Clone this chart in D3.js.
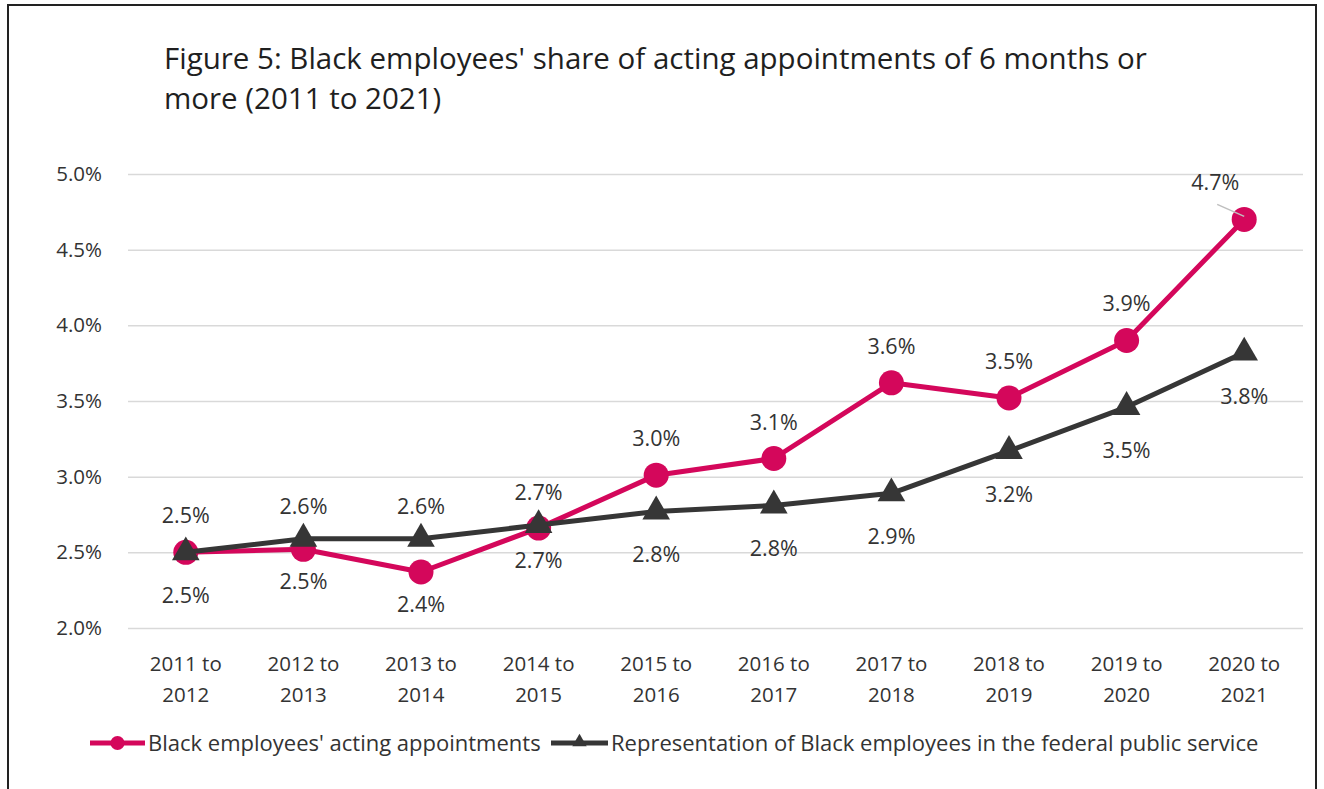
<!DOCTYPE html>
<html>
<head>
<meta charset="utf-8">
<script src="https://cdn.jsdelivr.net/npm/d3@7"></script>
<style>
  body { margin: 0; background: #fff; }
  text { font-family: "Open Sans", "Noto Sans", sans-serif; fill: #333; }
</style>
</head>
<body>
<svg width="1324" height="789"></svg>
<script>
// data
var periods = ["2011 to 2012", "2012 to 2013", "2013 to 2014", "2014 to 2015", "2015 to 2016",
               "2016 to 2017", "2017 to 2018", "2018 to 2019", "2019 to 2020", "2020 to 2021"];
var actingShare = [0.0250, 0.0252, 0.0237, 0.0266, 0.0301, 0.0312, 0.0362, 0.0352, 0.0390, 0.0470];
var representation = [0.0250, 0.0259, 0.0259, 0.0268, 0.0277, 0.0281, 0.0289, 0.0317, 0.0346, 0.0382];
var yTicks = [0.020, 0.025, 0.030, 0.035, 0.040, 0.045, 0.050];
var seriesNames = ["Black employees' acting appointments", "Representation of Black employees in the federal public service"];
var titleLines = ["Figure 5: Black employees' share of acting appointments of 6 months or", "more (2011 to 2021)"];

// where each data label goes (1 = above, -1 = below)
var actingLabelSide = [1, -1, -1, -1, 1, 1, 1, 1, 1, 1];
var reprLabelSide = [-1, 1, 1, 1, -1, -1, -1, -1, -1, -1];

var pink = "#d4075b", dark = "#363636";
var svg = d3.select("svg");
var fmt = d3.format(".1%");

// frame
svg.append("rect")
  .attr("x", 8).attr("y", 5).attr("width", 1308).attr("height", 820)
  .attr("fill", "none").attr("stroke", "#222").attr("stroke-width", 2);

// title
svg.append("g").selectAll("text")
  .data(titleLines).enter().append("text")
  .attr("x", 164).attr("y", function(d, i) { return 69 + i * 40; })
  .style("font-size", "29.5px").style("fill", "#1f1f1f")
  .text(function(d) { return d; });

var x = d3.scaleBand().domain(periods).range([127, 1303]);
var y = d3.scaleLinear().domain([0.02, 0.05]).range([628, 174]);
var cx = function(i) { return x(periods[i]) + x.bandwidth() / 2; };

// gridlines + y labels
var yAxis = svg.append("g")
  .attr("transform", "translate(" + 1303 + ",0)")
  .call(d3.axisLeft(y).tickValues(yTicks).tickSize(1303 - 128).tickFormat(d3.format(".1%")).tickPadding(26));
yAxis.select(".domain").remove();
yAxis.selectAll(".tick line").attr("stroke", "#d9d9d9").attr("stroke-width", 1.5);
yAxis.selectAll(".tick text").style("font-size", "20.5px").style("fill", "#333")
  .attr("font-family", null);

// x labels
var xg = svg.append("g");
periods.forEach(function(p, i) {
  var parts = p.split(" to ");
  var t = xg.append("text").attr("text-anchor", "middle").style("font-size", "20.5px");
  t.append("tspan").attr("x", cx(i)).attr("y", 671).text(parts[0] + " to");
  t.append("tspan").attr("x", cx(i)).attr("y", 702).text(parts[1]);
});

var line = d3.line().x(function(d, i) { return cx(i); }).y(function(d) { return y(d); });

// acting appointments series
svg.append("path").datum(actingShare)
  .attr("d", line).attr("fill", "none").attr("stroke", pink).attr("stroke-width", 5)
  .attr("stroke-linejoin", "round");
svg.append("g").selectAll("circle").data(actingShare).enter().append("circle")
  .attr("cx", function(d, i) { return cx(i); })
  .attr("cy", function(d) { return y(d); })
  .attr("r", 12.5).attr("fill", pink);

// representation series
svg.append("path").datum(representation)
  .attr("d", line).attr("fill", "none").attr("stroke", dark).attr("stroke-width", 5)
  .attr("stroke-linejoin", "round");
svg.append("g").selectAll("path").data(representation).enter().append("path")
  .attr("d", d3.symbol().type(d3.symbolTriangle).size(330))
  .attr("transform", function(d, i) { return "translate(" + cx(i) + "," + y(d) + ")"; })
  .attr("fill", dark);

// data labels
svg.append("g").selectAll("text").data(actingShare).enter().append("text")
  .attr("text-anchor", "middle").style("font-size", "21.5px")
  .attr("x", function(d, i) { return i == 9 ? cx(i) - 29 : cx(i); })
  .attr("y", function(d, i) { return y(d) + (actingLabelSide[i] > 0 ? -29 : 40); })
  .text(function(d) { return fmt(d); });
svg.append("g").selectAll("text").data(representation).enter().append("text")
  .attr("text-anchor", "middle").style("font-size", "21.5px")
  .attr("x", function(d, i) { return cx(i); })
  .attr("y", function(d, i) { return y(d) + (reprLabelSide[i] > 0 ? -25 : 51); })
  .text(function(d) { return fmt(d); });

// leader line for the last label
svg.append("line")
  .attr("x1", cx(9) - 27).attr("y1", y(actingShare[9]) - 15)
  .attr("x2", cx(9)).attr("y2", y(actingShare[9]) - 3)
  .attr("stroke", "#bfbfbf").attr("stroke-width", 1.5);

// legend
var legend = svg.append("g");
legend.append("line").attr("x1", 90).attr("x2", 145).attr("y1", 743).attr("y2", 743)
  .attr("stroke", pink).attr("stroke-width", 5);
legend.append("circle").attr("cx", 117.5).attr("cy", 743).attr("r", 7).attr("fill", pink);
legend.append("text").attr("x", 148).attr("y", 751).style("font-size", "22px").text(seriesNames[0]);
legend.append("line").attr("x1", 551).attr("x2", 608).attr("y1", 743).attr("y2", 743)
  .attr("stroke", dark).attr("stroke-width", 5);
legend.append("path").attr("d", d3.symbol().type(d3.symbolTriangle).size(90))
  .attr("transform", "translate(579.5,742)").attr("fill", dark);
legend.append("text").attr("x", 611).attr("y", 751).style("font-size", "22px").text(seriesNames[1]);
</script>
</body>
</html>
